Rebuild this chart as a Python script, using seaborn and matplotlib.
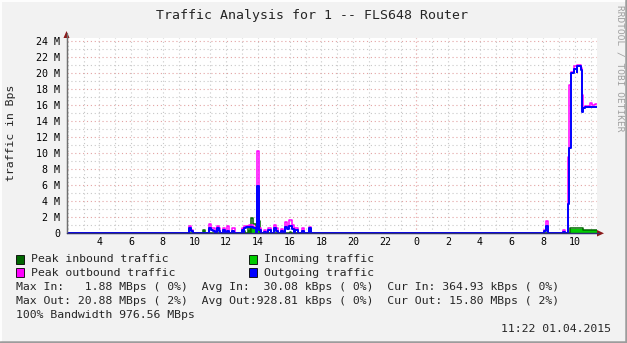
import matplotlib
matplotlib.use("Agg")
import matplotlib.pyplot as plt
import seaborn as sns
from matplotlib.patches import Polygon, Rectangle
from matplotlib.lines import Line2D

# ---------------- data (hours from midnight of day 1, values in MBps) ----------------
x_start, x_end = 1.92, 35.37

out_start = [9.62, 9.78, 10.90, 11.05, 11.15, 11.40, 11.52, 11.80, 12.05, 12.35, 12.98, 13.10, 13.25, 13.45, 13.70,
             13.95, 14.08, 14.35, 14.65, 15.00, 15.12, 15.45, 15.70, 15.85, 15.98, 16.12, 16.35, 16.75, 17.20,
             32.05, 32.15, 33.25, 33.58, 33.64, 33.72, 33.95, 34.10, 34.15, 34.38, 34.46, 34.52, 34.65]
out_end = [9.78, 9.90, 11.05, 11.15, 11.30, 11.52, 11.62, 11.95, 12.20, 12.50, 13.08, 13.25, 13.45, 13.70, 13.88,
           14.08, 14.16, 14.50, 14.80, 15.12, 15.25, 15.55, 15.85, 15.98, 16.12, 16.25, 16.50, 16.90, 17.32,
           32.15, 32.30, 33.35, 33.64, 33.72, 33.95, 34.10, 34.15, 34.38, 34.46, 34.52, 34.65, 35.37]
out_val = [0.6, 0.3, 0.7, 0.4, 0.3, 0.7, 0.3, 0.4, 0.3, 0.3, 0.4, 0.6, 0.8, 0.8, 0.6,
           5.9, 0.4, 0.2, 0.4, 0.6, 0.3, 0.3, 0.8, 0.5, 0.9, 0.5, 0.4, 0.3, 0.6,
           0.3, 0.9, 0.2, 3.6, 10.6, 20.0, 20.5, 20.2, 20.85, 20.4, 15.2, 15.6, 15.8]

pout_start = [9.62, 9.78, 10.90, 11.05, 11.15, 11.40, 11.52, 11.80, 12.05, 12.35, 12.98, 13.10, 13.25, 13.45, 13.70,
              13.95, 14.08, 14.35, 14.65, 15.00, 15.12, 15.45, 15.70, 15.85, 15.98, 16.12, 16.35, 16.75, 17.20,
              32.05, 32.15, 33.25, 33.58, 33.64, 33.72, 33.95, 34.10, 34.15, 34.38, 34.46, 34.52, 34.65, 34.95,
              35.10, 35.25]
pout_end = [9.78, 9.90, 11.05, 11.15, 11.30, 11.52, 11.62, 11.95, 12.20, 12.55, 13.08, 13.25, 13.45, 13.70, 13.88,
            14.08, 14.16, 14.50, 14.80, 15.12, 15.25, 15.55, 15.85, 15.98, 16.12, 16.25, 16.50, 16.90, 17.32,
            32.15, 32.30, 33.35, 33.64, 33.72, 33.95, 34.10, 34.15, 34.38, 34.46, 34.52, 34.65, 34.95, 35.10,
            35.25, 35.37]
pout_val = [0.9, 0.4, 1.2, 0.6, 0.6, 0.9, 0.6, 0.6, 0.9, 0.6, 0.6, 0.9, 0.9, 1.0, 0.8,
            10.3, 0.6, 0.4, 0.6, 1.0, 0.6, 0.5, 1.4, 0.9, 1.6, 1.0, 0.6, 0.7, 0.8,
            0.4, 1.5, 0.4, 9.5, 18.5, 20.2, 20.9, 20.6, 21.0, 20.6, 17.3, 15.7, 15.9, 16.3,
            16.0, 16.2]

in_start = [10.55, 13.05, 13.40, 13.50, 13.70, 13.95, 16.00, 33.70, 34.00, 34.50, 35.00]
in_end = [10.65, 13.15, 13.50, 13.70, 13.88, 14.12, 16.10, 34.00, 34.50, 35.00, 35.37]
in_val = [0.3, 0.2, 0.4, 0.6, 0.6, 1.45, 0.15, 0.55, 0.50, 0.42, 0.38]

pin_start = [10.55, 13.05, 13.40, 13.55, 13.70, 13.95, 16.00, 33.70, 34.50]
pin_end = [10.65, 13.15, 13.50, 13.70, 13.88, 14.12, 16.10, 34.50, 35.37]
pin_val = [0.35, 0.3, 0.9, 1.88, 1.1, 1.5, 0.2, 0.6, 0.45]

y_ticks = [0, 2, 4, 6, 8, 10, 12, 14, 16, 18, 20, 22, 24]
x_ticks = [4, 6, 8, 10, 12, 14, 16, 18, 20, 22, 24, 26, 28, 30, 32, 34]

legend_labels = ["Peak inbound traffic", "Incoming traffic", "Peak outbound traffic", "Outgoing traffic"]
stat_lines = [
    "Max In:   1.88 MBps ( 0%)  Avg In:  30.08 kBps ( 0%)  Cur In: 364.93 kBps ( 0%)",
    "Max Out: 20.88 MBps ( 2%)  Avg Out:928.81 kBps ( 0%)  Cur Out: 15.80 MBps ( 2%)",
    "100% Bandwidth 976.56 MBps",
]
timestamp = "11:22 01.04.2015"
title = "Traffic Analysis for 1 -- FLS648 Router"


def steps(starts, ends, vals, x0, x1):
    t, v, prev = [x0], [0.0], x0
    for s, e, val in zip(starts, ends, vals):
        if s > prev and t[-1] != prev:
            t.append(prev); v.append(0.0)
        t.append(s); v.append(val)
        prev = e
    if prev < x1:
        t.append(prev); v.append(0.0)
        t.append(x1); v.append(0.0)
    else:
        t.append(x1); v.append(v[-1])
    return t, v


C_PIN, C_IN, C_POUT, C_OUT = "#006600", "#00cc00", "#ff00ff", "#0000ff"
BG = "#f2f2f2"
MONO = "DejaVu Sans Mono"

sns.set_theme(style="white")
plt.rcParams["font.family"] = [MONO, "DejaVu Sans"]

W, H = 627, 343
fig = plt.figure(figsize=(W / 100, H / 100), dpi=100, facecolor=BG)

L, R, T, B = 66.5, 596.7, 38.0, 233.3
ax = fig.add_axes([L / W, (H - B) / H, (R - L) / W, (B - T) / H])
ax.set_facecolor("white")

y_top = 24.4
ax.set_xlim(x_start, x_end)
ax.set_ylim(0, y_top)

# grid
dot = (0, (1, 2.5))
ax.set_xticks([h for h in range(2, 36)], minor=True)
ax.set_yticks(list(range(0, 25)), minor=True)
ax.set_xticks(x_ticks)
ax.set_yticks(y_ticks)
ax.grid(which="both", axis="x", color="#c8c8c8", linestyle=dot, linewidth=0.8)
ax.grid(which="minor", axis="y", color="#c8c8c8", linestyle=dot, linewidth=0.8)
ax.grid(which="major", axis="y", color="#e3a3a3", linestyle=dot, linewidth=0.8)
ax.axvline(24, color="#f4b0b0", linestyle=dot, linewidth=0.8, zorder=0.6)
ax.set_axisbelow(True)

# series
t, v = steps(pin_start, pin_end, pin_val, x_start, x_end)
sns.lineplot(x=t, y=v, drawstyle="steps-post", estimator=None, sort=False, color=C_PIN, linewidth=1.1, ax=ax)
t, v = steps(in_start, in_end, in_val, x_start, x_end)
ax.fill_between(t, v, step="post", color=C_IN, linewidth=0, zorder=2.1)
t, v = steps(pout_start, pout_end, pout_val, x_start, x_end)
sns.lineplot(x=t, y=v, drawstyle="steps-post", estimator=None, sort=False, color=C_POUT, linewidth=1.1, ax=ax)
t, v = steps(out_start, out_end, out_val, x_start, x_end)
sns.lineplot(x=t, y=v, drawstyle="steps-post", estimator=None, sort=False, color=C_OUT, linewidth=1.4, ax=ax)
for ln in ax.lines:
    ln.set_zorder(3)
ax.lines[-1].set_zorder(3.5)

# axes, ticks
for s in ["top", "right"]:
    ax.spines[s].set_visible(False)
ax.spines["left"].set_color("#707070")
ax.spines["left"].set_linewidth(0.9)
ax.spines["bottom"].set_color("#303070")
ax.spines["bottom"].set_linewidth(0.9)
ax.spines["left"].set_zorder(4)
ax.spines["bottom"].set_zorder(4)
ax.set_xticklabels([str(h % 24) for h in x_ticks])
ax.set_yticklabels(["0" if y == 0 else f"{y} M" for y in y_ticks])
ax.tick_params(axis="both", which="both", length=0, labelsize=7.2, colors="black")
ax.tick_params(axis="y", pad=4.5)
ax.tick_params(axis="x", pad=2.5)
ax.set_xlabel("")
ax.set_ylabel("")


def px(x, y):
    return (x / W, (H - y) / H)


# axis extensions and arrows
fig.add_artist(Line2D([L / W, L / W], [(H - B) / H, (H - 33) / H], color="#707070", lw=0.9))
fig.add_artist(Line2D([L / W, 599 / W], [(H - B) / H, (H - B) / H], color="#303070", lw=0.9))
fig.add_artist(Polygon([px(63.5, 38), px(69.5, 38), px(66.5, 31)], closed=True, color="#8b1a1a", lw=0))
fig.add_artist(Polygon([px(597, 230), px(597, 236.5), px(604, 233.3)], closed=True, color="#8b1a1a", lw=0))

# title and labels
fig.text(312.5 / W, (H - 16) / H, title, ha="center", va="center", fontsize=9.5, family=MONO)
fig.text(11 / W, (H - 133) / H, "traffic in Bps", ha="center", va="center", rotation=90, fontsize=8.25, family=MONO)
fig.text(620 / W, (H - 5) / H, "RRDTOOL / TOBI OETIKER", ha="center", va="top", rotation=270,
         fontsize=6.8, family=MONO, color="#a0a0a0")

# legend
leg_pos = [(16, 259), (249, 259), (16, 272.5), (249, 272.5)]
leg_cols = [C_PIN, C_IN, C_POUT, C_OUT]
for (lx, ly), lab, col in zip(leg_pos, legend_labels, leg_cols):
    fig.add_artist(Rectangle(px(lx, ly + 4.5), 8 / W, 9 / H, facecolor=col, edgecolor="black", lw=0.6))
    fig.text((lx + 15) / W, (H - ly) / H, lab, ha="left", va="center", fontsize=8.25, family=MONO)

for i, line in enumerate(stat_lines):
    fig.text(16 / W, (H - (287 + 13.8 * i)) / H, line, ha="left", va="center", fontsize=8.25, family=MONO)
fig.text(611 / W, (H - 328.5) / H, timestamp, ha="right", va="center", fontsize=8.25, family=MONO)

# frame shading
fig.add_artist(Line2D([0, 1], [1 - 0.5 / H, 1 - 0.5 / H], color="#fdfdfd", lw=1.5))
fig.add_artist(Line2D([0.5 / W, 0.5 / W], [0, 1], color="#fdfdfd", lw=1.5))
fig.add_artist(Line2D([0, 1], [1.0 / H, 1.0 / H], color="#9c9c9c", lw=1.8))
fig.add_artist(Line2D([1 - 1.0 / W, 1 - 1.0 / W], [0, 1], color="#9c9c9c", lw=1.8))

fig.savefig("out.png", dpi=100, facecolor=BG)
